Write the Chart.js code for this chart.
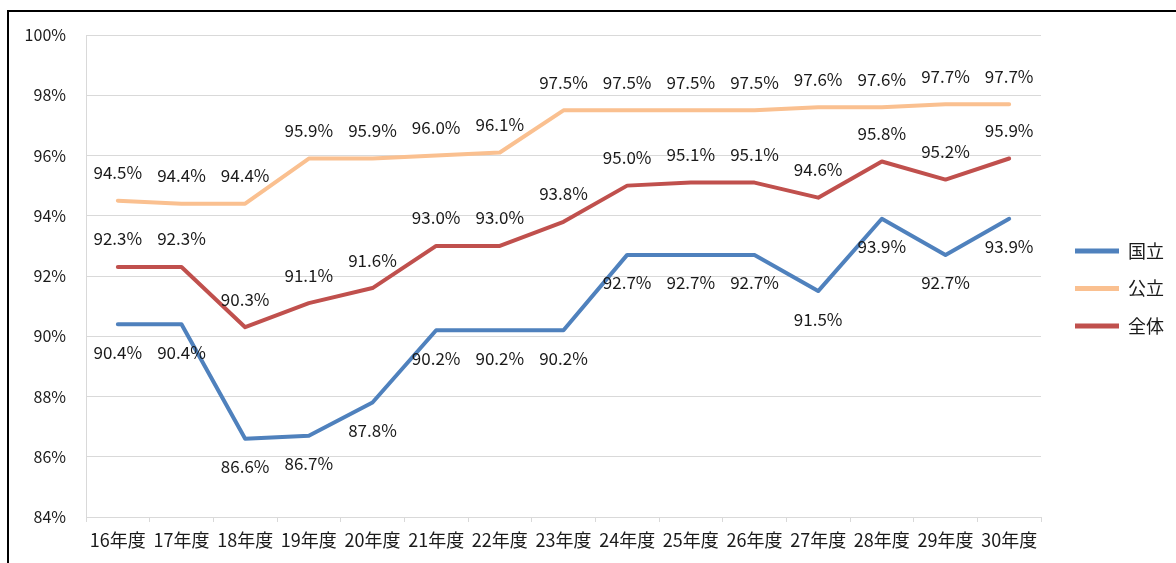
<!DOCTYPE html>
<html>
<head>
<meta charset="utf-8">
<script src="https://cdn.jsdelivr.net/npm/chart.js@4"></script>
<style>
html,body{margin:0;padding:0;background:#fff;overflow:hidden;}
#wrap{position:relative;width:1176px;height:563px;overflow:hidden;background:#fff;}
#c{position:absolute;left:0;top:0;}
#frame{position:absolute;left:7px;top:10px;width:1300px;height:700px;border-left:2px solid #000;border-top:2px solid #000;pointer-events:none;}
</style>
</head>
<body>
<div id="wrap">
<canvas id="c" width="1176" height="563"></canvas>
<div id="frame"></div>
</div>
<script>
const categories = ['16年度','17年度','18年度','19年度','20年度','21年度','22年度','23年度','24年度','25年度','26年度','27年度','28年度','29年度','30年度'];
const seriesNames = ['国立','公立','全体'];
const kokuritsu = [90.4, 90.4, 86.6, 86.7, 87.8, 90.2, 90.2, 90.2, 92.7, 92.7, 92.7, 91.5, 93.9, 92.7, 93.9];
const kouritsu  = [94.5, 94.4, 94.4, 95.9, 95.9, 96.0, 96.1, 97.5, 97.5, 97.5, 97.5, 97.6, 97.6, 97.7, 97.7];
const zentai    = [92.3, 92.3, 90.3, 91.1, 91.6, 93.0, 93.0, 93.8, 95.0, 95.1, 95.1, 94.6, 95.8, 95.2, 95.9];
const yTicks = [84, 86, 88, 90, 92, 94, 96, 98, 100];

const colors = ['#4F81BD', '#FAC090', '#C0504D'];
const labelSide = [1, -1, -1]; // 1 = below, -1 = above
const FONT = "'Noto Sans CJK JP', 'Liberation Sans', sans-serif";
const TEXT = '#1a1a1a';
const GRID = '#d9d9d9';

const dataLabels = {
  id: 'dataLabels',
  afterDatasetsDraw(chart) {
    const ctx = chart.ctx;
    ctx.save();
    ctx.font = '17px ' + FONT;
    ctx.fillStyle = TEXT;
    ctx.textAlign = 'center';
    ctx.textBaseline = 'middle';
    chart.data.datasets.forEach((ds, i) => {
      const meta = chart.getDatasetMeta(i);
      meta.data.forEach((pt, j) => {
        ctx.fillText(ds.data[j].toFixed(1) + '%', pt.x, pt.y + labelSide[i] * 28);
      });
    });
    ctx.restore();
  }
};

const seriesData = [kokuritsu, kouritsu, zentai];
new Chart(document.getElementById('c'), {
  type: 'line',
  data: {
    labels: categories,
    datasets: seriesNames.map((n, i) => ({
      label: n,
      data: seriesData[i],
      borderColor: colors[i],
      backgroundColor: colors[i],
      borderWidth: 4,
      borderCapStyle: 'round',
      borderJoinStyle: 'round',
      pointRadius: 0,
      pointHoverRadius: 0,
      tension: 0,
      fill: false
    }))
  },
  options: {
    responsive: false,
    animation: false,
    events: [],
    layout: { padding: { left: 0, top: 14, right: 2, bottom: 0 } },
    plugins: {
      tooltip: { enabled: false },
      legend: {
        position: 'right',
        align: 'center',
        labels: {
          font: { family: FONT, size: 18 },
          color: TEXT,
          boxWidth: 44,
          boxHeight: 5,
          padding: 19.5,
          generateLabels(chart) {
            return Chart.defaults.plugins.legend.labels.generateLabels(chart).map(it => {
              it.fillStyle = it.strokeStyle;
              it.lineWidth = 0;
              return it;
            });
          }
        }
      }
    },
    scales: {
      x: {
        type: 'category',
        offset: true,
        grid: {
          offset: true,
          drawOnChartArea: true,
          color: c => (c.index === 0 || c.index === categories.length) ? GRID : 'rgba(0,0,0,0)',
          tickColor: GRID,
          tickLength: 5,
          lineWidth: 1
        },
        border: { display: true, color: GRID },
        ticks: {
          font: { family: FONT, size: 18 },
          color: TEXT,
          autoSkip: false,
          maxRotation: 0,
          padding: 7
        },
        afterFit: s => { s.height = 46; }
      },
      topSpacer: {
        type: 'linear',
        position: 'top',
        display: true,
        grid: { display: false },
        border: { display: false },
        ticks: { display: false },
        afterFit: s => { s.height = 21; }
      },
      y: {
        min: yTicks[0],
        max: yTicks[yTicks.length - 1],
        afterBuildTicks: s => { s.ticks = yTicks.map(v => ({ value: v })); },
        grid: { color: GRID, drawTicks: false, lineWidth: 1 },
        border: { display: true, color: GRID },
        ticks: {
          font: { family: FONT, size: 16 },
          color: TEXT,
          padding: 20,
          callback: v => v + '%'
        },
        afterFit: s => { s.width = 86; }
      },
      spacer: {
        type: 'linear',
        position: 'right',
        display: true,
        grid: { display: false },
        border: { display: false },
        ticks: { display: false },
        afterFit: s => { s.width = 14.5; }
      }
    }
  },
  plugins: [dataLabels]
});
</script>
</body>
</html>
